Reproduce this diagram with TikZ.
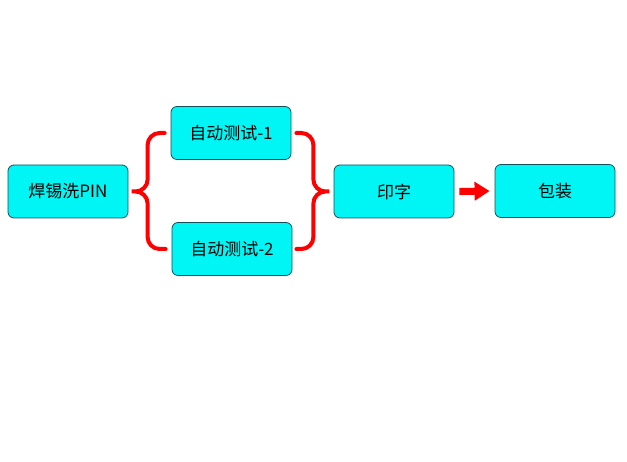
\documentclass[tikz,border=0pt]{standalone}
\usepackage{fontspec}
\setmainfont{Noto Sans CJK SC}
\usetikzlibrary{arrows.meta}

\definecolor{boxfill}{RGB}{0,245,245}
\definecolor{boxline}{RGB}{20,80,90}

\tikzset{
  stepbox/.style={draw=boxline, line width=0.8pt, fill=boxfill, rounded corners=6pt,
    minimum width=120pt, minimum height=53pt, inner sep=0pt,
    font=\fontsize{17}{19}\selectfont},
  bracket/.style={draw=red, line width=4pt, line cap=round},
  flow/.style={draw=red, line width=7pt, -{Triangle[length=15pt,width=18pt]}}
}

\begin{document}
\begin{tikzpicture}
    [x=1pt, y=1pt]

    \useasboundingbox (0, 0) rectangle (627, 462);

    \node [stepbox] at (68,  270.5) (pin) {焊锡洗PIN};
    \node [stepbox] at (231, 329)   (t1)  {自动测试-1};
    \node [stepbox] at (232, 213)   (t2)  {自动测试-2};
    \node [stepbox] at (394, 270.5) (yz)  {印字};
    \node [stepbox] at (555, 271)   (bz)  {包装};

    % left brace
    \draw [bracket] ([xshift=-6]t1.west) -- ++(-5, 0)
      arc [start angle=90, end angle=180, radius=12] -- ++(0, -34.5)
      arc [start angle=0, end angle=-90, radius=12] -- ++(-4, 0)
      -- ++(4, 0)
      arc [start angle=90, end angle=0, radius=12] -- ++(0, -33.5)
      arc [start angle=180, end angle=270, radius=12] -- ([xshift=-6]t2.west);

    % right brace
    \draw [bracket] ([xshift=5]t1.east) -- ++(5, 0)
      arc [start angle=90, end angle=0, radius=12] -- ++(0, -34.5)
      arc [start angle=180, end angle=270, radius=12] -- ++(4, 0)
      -- ++(-4, 0)
      arc [start angle=90, end angle=180, radius=12] -- ++(0, -33.5)
      arc [start angle=0, end angle=-90, radius=12] -- ([xshift=4]t2.east);

    \draw [flow] ([xshift=5]yz.east) -- ([xshift=-5]bz.west);

  \end{tikzpicture}
\end{document}
